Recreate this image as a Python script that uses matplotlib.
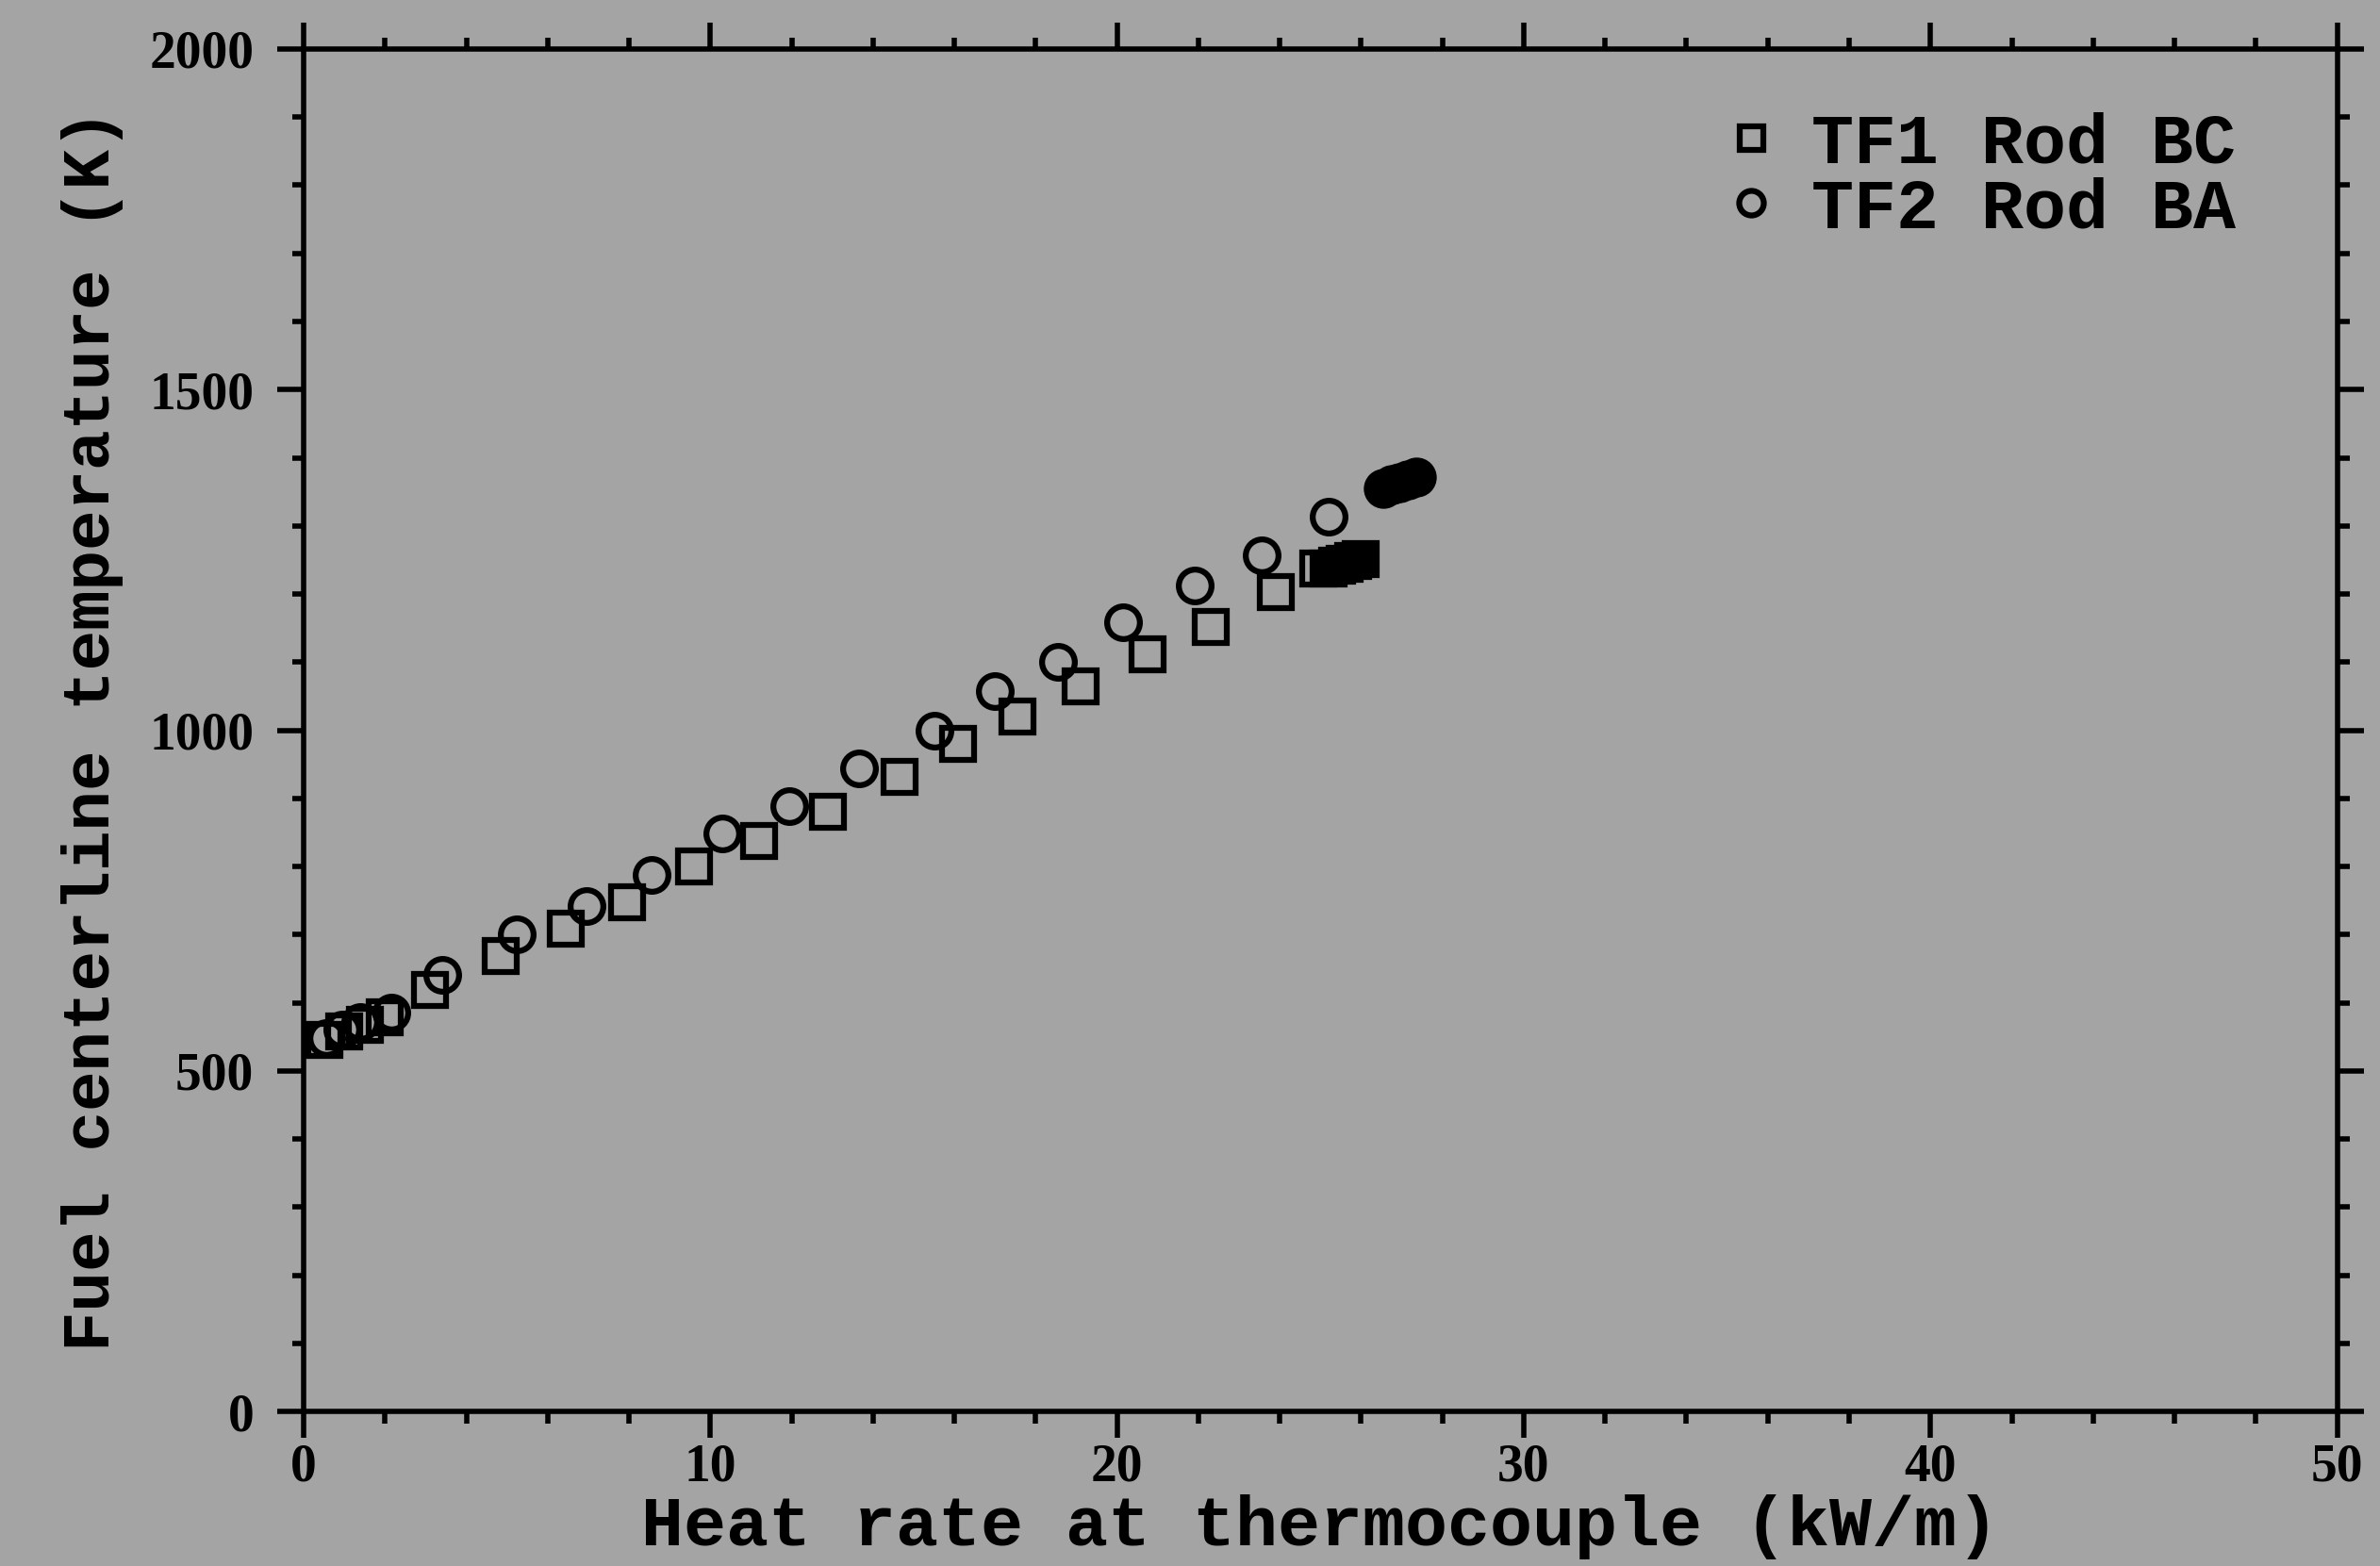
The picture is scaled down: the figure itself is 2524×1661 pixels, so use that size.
import matplotlib
matplotlib.use('Agg')
import matplotlib.pyplot as plt
import numpy as np

# TF1 Rod BC (squares)
tf1_q = [0.5, 1.0, 1.5, 2.0, 3.1, 4.85, 6.45, 7.95, 9.6, 11.2, 12.9, 14.65, 16.1,
         17.55, 19.1, 20.75, 22.3, 23.9, 24.95]
tf1_t = [545, 558, 568, 578, 619, 669, 709, 747, 800, 837, 880, 931, 980,
         1020, 1065, 1112, 1152, 1203, 1237]
# dense group at full power (appears solid)
tf1_q_hi = [25.2, 25.4, 25.6, 25.8, 26.0]
tf1_t_hi = [1237, 1241, 1245, 1248, 1251]

# TF2 Rod BA (circles)
tf2_q = [0.55, 0.95, 1.4, 2.15, 3.4, 5.25, 6.95, 8.55, 10.3, 11.95, 13.65, 15.5,
         17.0, 18.55, 20.15, 21.9, 23.55, 25.2]
tf2_t = [548, 560, 572, 586, 641, 700, 742, 788, 849, 889, 944, 1000,
         1058, 1100, 1158, 1213, 1257, 1313]
tf2_q_hi = [26.55, 26.75, 26.95, 27.15, 27.35]
tf2_t_hi = [1355, 1360, 1364, 1368, 1371]

bg = '#a4a4a4'
lab_font = 'Liberation Mono'
tick_font = 'Liberation Serif'

fig = plt.figure(figsize=(25.24, 16.61), dpi=100, facecolor=bg)
ax = fig.add_axes([0.1276, 0.0987, 0.8544, 0.87])
ax.set_facecolor(bg)

ax.plot(tf1_q, tf1_t, 's', ms=24, mfc='none', mec='black', mew=4.5, label='TF1 Rod BC')
ax.plot(tf1_q_hi, tf1_t_hi, 's', ms=25, mfc='black', mec='black', mew=4.5)
ax.plot(tf2_q, tf2_t, 'o', ms=25, mfc='none', mec='black', mew=4.5, label='TF2 Rod BA')
ax.plot(tf2_q_hi, tf2_t_hi, 'o', ms=26, mfc='black', mec='black', mew=4.5)

ax.set_xlim(0, 50)
ax.set_ylim(0, 2000)
ax.set_xticks(np.arange(0, 51, 10))
ax.set_xticks(np.arange(0, 51, 2), minor=True)
ax.set_yticks(np.arange(0, 2001, 500))
ax.set_yticks(np.arange(0, 2001, 100), minor=True)

for s in ax.spines.values():
    s.set_linewidth(4)
ax.tick_params(which='both', direction='out', top=True, right=True, width=4)
ax.tick_params(which='major', length=20)
ax.tick_params(which='minor', length=9)
ax.tick_params(axis='x', pad=4)
ax.tick_params(axis='y', pad=18)
for lbl in ax.get_xticklabels() + ax.get_yticklabels():
    lbl.set_fontfamily(tick_font)
    lbl.set_fontweight('bold')
    lbl.set_fontsize(40)

ax.set_xlabel('Heat rate at thermocouple (kW/m)', fontfamily=lab_font,
              fontweight='bold', fontsize=54, labelpad=2)
ax.set_ylabel('Fuel centerline temperature (K)', fontfamily=lab_font,
              fontweight='bold', fontsize=51, labelpad=20)

leg = ax.legend(loc='upper right', bbox_to_anchor=(0.985, 1.006), frameon=False,
                markerscale=0.75,
                prop={'family': lab_font, 'weight': 'bold', 'size': 54},
                handletextpad=0.35, labelspacing=0.0, handlelength=1.0,
                borderaxespad=0.6)

fig.savefig('out.png', dpi=100, facecolor=bg)
